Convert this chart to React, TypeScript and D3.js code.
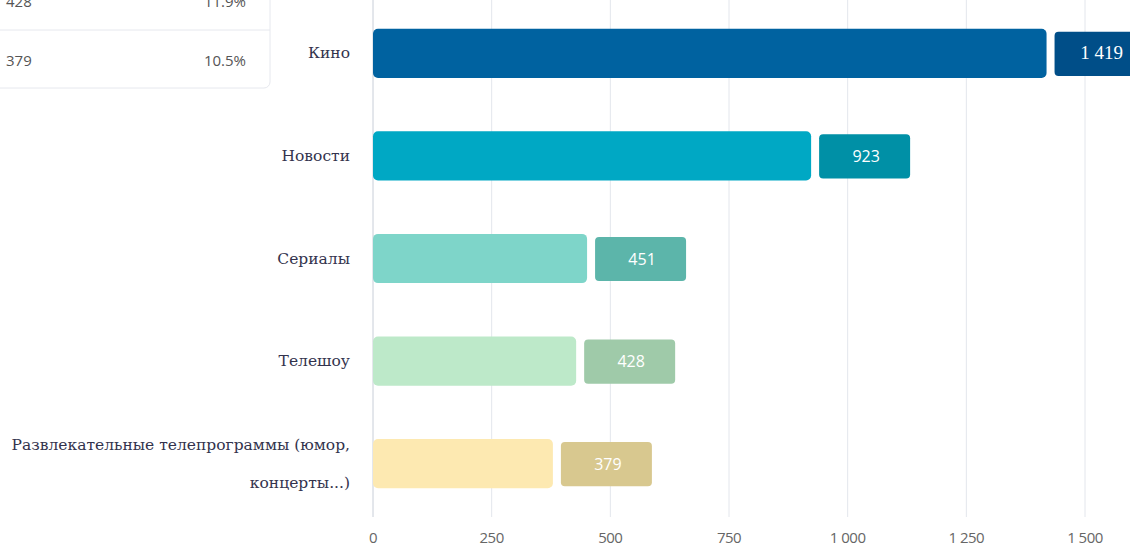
import React from "react";
import * as d3 from "d3";

const categories = ["Кино", "Новости", "Сериалы", "Телешоу", "Развлекательные телепрограммы (юмор, концерты...)"];
const labelLines = [["Кино"], ["Новости"], ["Сериалы"], ["Телешоу"], ["Развлекательные телепрограммы (юмор,", "концерты...)"]];
const values = [1419, 923, 451, 428, 379];
const barColors = ["#0062a0", "#00a8c4", "#7ed5c9", "#bde9c9", "#fde9b1"];
const boxColors = ["#004e88", "#0090a6", "#5cb5aa", "#9fcaa9", "#d8c88f"];
const xTicks = [0, 250, 500, 750, 1000, 1250, 1500];
const tableValues = ["428", "379"];
const tablePercents = ["11.9%", "10.5%"];

const fmt = (v: number) => d3.format(",")(v).replace(/,/g, " ");

export default function App() {
  const W = 1130, H = 546;
  const x = d3.scaleLinear().domain([0, 1500]).range([373, 1085]);
  const y = d3.scaleBand<string>().domain(categories).range([2, 515]).paddingInner(0.52).paddingOuter(0.26);
  const bh = y.bandwidth();
  return (
    <svg width={W} height={H} style={{ position: "absolute", left: 0, top: 0, background: "#fff" }}>
      {xTicks.map((t) => (
        <line key={t} x1={x(t)} x2={x(t)} y1={0} y2={517} stroke="#e3e6ec" strokeWidth={1} />
      ))}
      <line x1={x(0)} x2={x(0)} y1={0} y2={517} stroke="#d6dae2" />
      {xTicks.map((t) => (
        <text key={"l" + t} x={x(t)} y={543} textAnchor="middle" fontFamily="Open Sans, sans-serif" fontSize={15} fill="#666" style={{ letterSpacing: "-0.5px" }}>
          {fmt(t)}
        </text>
      ))}
      {categories.map((c, i) => {
        const y0 = y(c)!;
        const xe = x(values[i]);
        const lines = labelLines[i];
        const s = fmt(values[i]);
        return (
          <g key={c}>
            <rect x={x(0)} y={y0} width={xe - x(0)} height={bh} rx={5} fill={barColors[i]} />
            <rect x={xe + 8} y={y0 + 3} width={91} height={bh - 5} rx={4} fill={boxColors[i]} />
            <text x={xe + 8 + 47} y={y0 + bh / 2 + 6} textAnchor="middle" fill="#fff" fontSize={s.includes(" ") ? 19 : 16}
              fontFamily={s.includes(" ") ? "Liberation Serif, serif" : "Open Sans, sans-serif"}>
              {s}
            </text>
            {lines.map((ln, j) => (
              <text key={j} x={350} y={y0 + bh / 2 + 5 + (j - (lines.length - 1) / 2) * 38} textAnchor="end"
                fontFamily="DejaVu Serif, serif" fontSize={15.5} fill="#33334d">
                {ln}
              </text>
            ))}
          </g>
        );
      })}
      <g>
        <rect x={-10} y={-40} width={280} height={128} rx={6} fill="#fff" stroke="#e6e8ee" />
        <line x1={0} x2={270} y1={30} y2={30} stroke="#e6e8ee" />
        {tableValues.map((v, i) => (
          <g key={v}>
            <text x={6} y={7 + i * 59} fontFamily="Open Sans, sans-serif" fontSize={15} fill="#555">{v}</text>
            <text x={246} y={7 + i * 59} textAnchor="end" fontFamily="Open Sans, sans-serif" fontSize={15} fill="#555">{tablePercents[i]}</text>
          </g>
        ))}
      </g>
    </svg>
  );
}
